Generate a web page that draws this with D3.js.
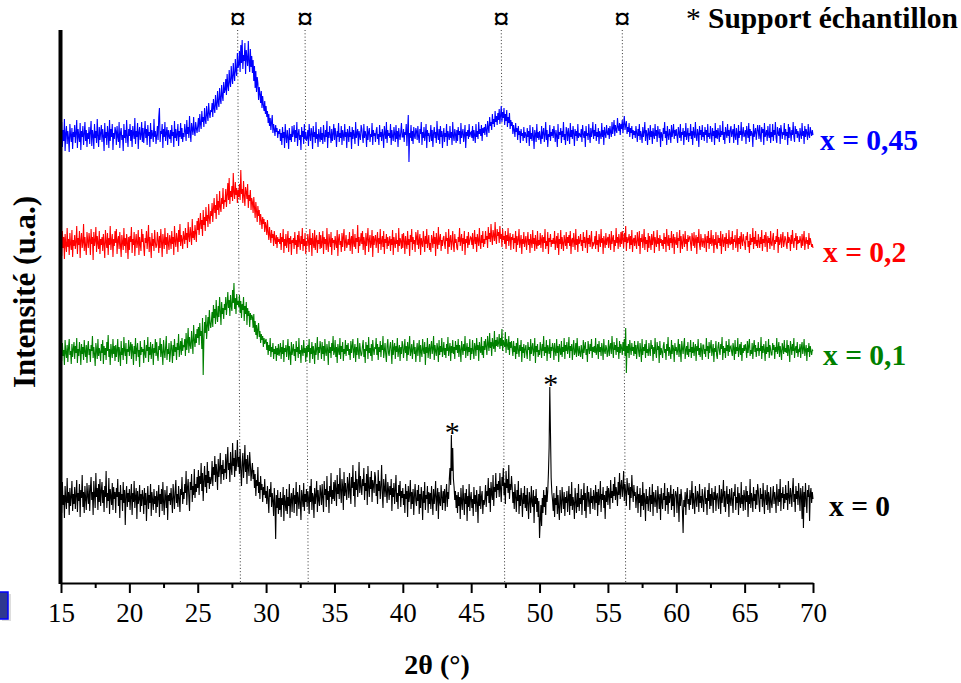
<!DOCTYPE html>
<html>
<head>
<meta charset="utf-8">
<script src="https://cdn.jsdelivr.net/npm/d3@7"></script>
<style>
  body { margin: 0; background: #fff; }
  svg { display: block; }
  text { font-family: "Liberation Serif", "Times New Roman", serif; }
</style>
</head>
<body>
<svg id="chart" width="961" height="683"></svg>
<script>
// ---------- DATA ----------
// Each row = one degree of 2θ (row r starts at 15 + r °), 20 readings per degree (step 0.05 °).
const thetaStart = 15;

const xTicks = [15, 20, 25, 30, 35, 40, 45, 50, 55, 60, 65, 70];
const xMinorTicks = [17.5, 22.5, 27.5, 32.5, 37.5, 42.5, 47.5, 52.5, 57.5, 62.5, 67.5];

const int_x0 = [
[92,70,101,78,88,65,97,83,74,105,80,91,68,95,77,86,102,72,89,79],
[96,74,88,103,71,90,82,99,66,93,85,108,76,91,70,97,84,73,100,87],
[79,98,72,94,106,83,91,68,102,88,75,110,86,95,73,99,81,104,77,92],
[101,80,93,71,97,86,112,75,90,82,105,69,94,87,78,100,73,96,84,91],
[70,95,86,104,77,91,65,98,83,89,72,101,80,93,58,88,97,76,90,81],
[94,73,87,99,68,90,81,102,75,86,95,64,92,79,84,98,71,89,77,93],
[86,69,95,78,90,62,84,97,74,88,80,99,67,91,83,73,94,79,87,70],
[92,76,85,98,66,89,79,94,72,101,81,68,93,86,75,97,63,88,82,90],
[78,95,83,70,99,87,74,92,103,80,89,76,97,85,71,94,88,106,79,91],
[84,99,90,112,78,95,104,86,72,101,93,109,81,97,88,114,85,99,91,106],
[95,113,88,107,99,120,92,110,82,103,117,96,108,90,121,100,112,94,106,99],
[104,122,97,116,108,127,101,119,110,93,124,106,115,130,99,118,109,123,103,114],
[110,129,104,122,136,113,120,101,131,115,108,140,117,125,106,133,112,121,143,116],
[126,109,134,113,97,121,130,105,118,138,111,124,99,128,116,107,131,119,102,112],
[120,104,113,95,109,87,103,97,116,90,101,84,107,93,99,81,96,88,104,85],
[92,79,97,84,70,94,86,101,76,90,82,67,95,80,44,88,75,93,69,85],
[73,91,66,85,78,96,62,88,80,72,94,69,86,77,99,65,83,90,71,87],
[95,70,88,79,101,67,91,84,74,98,80,63,93,86,76,100,72,89,81,94],
[76,92,85,69,97,81,104,73,90,86,65,95,79,88,102,71,93,83,77,98],
[90,78,99,85,71,102,88,94,76,107,83,92,70,97,86,110,79,93,84,101],
[82,103,94,77,108,89,99,84,115,92,80,104,96,73,111,87,100,91,83,106],
[98,85,110,92,79,106,95,118,87,101,76,112,93,104,86,99,121,90,107,96],
[88,104,97,115,83,100,92,109,78,117,96,86,106,94,112,81,103,98,90,111],
[106,87,99,79,113,92,102,84,97,118,89,75,104,95,86,109,91,80,101,94],
[83,97,88,104,72,95,86,100,79,93,108,81,90,74,98,87,102,76,92,85],
[95,78,89,70,99,84,92,66,97,81,88,103,74,91,79,94,68,87,99,82],
[77,93,82,98,69,89,75,96,86,63,92,80,101,73,88,84,97,70,91,79],
[90,74,97,83,68,94,79,88,102,72,85,95,64,91,81,77,98,86,73,92],
[80,94,72,88,99,76,91,84,104,115,98,148,112,135,104,96,83,92,75,88],
[70,91,77,86,64,95,81,73,98,84,68,90,79,94,62,87,76,99,72,85],
[91,75,84,67,96,79,88,71,93,82,60,89,77,97,74,86,92,69,83,78],
[84,98,76,92,87,105,80,95,71,101,89,83,108,77,96,91,110,85,99,93],
[102,86,110,94,81,106,97,115,88,100,79,112,95,104,90,118,84,99,93,107],
[96,80,91,74,99,86,71,93,82,102,69,88,77,95,84,66,90,79,97,75],
[88,72,95,79,64,91,84,70,97,81,76,93,60,87,79,94,71,85,66,82],
[45,62,78,57,85,70,93,76,88,68,96,81,92,110,135,196,150,105,90,83],
[72,90,66,85,78,97,69,88,75,63,93,81,70,96,84,74,91,67,86,80],
[92,71,84,97,68,89,77,101,73,86,80,64,95,82,70,90,76,99,72,85],
[79,94,68,88,83,100,72,90,65,86,97,76,91,82,69,95,80,87,74,93],
[86,73,98,80,91,67,94,78,85,102,71,89,83,96,75,88,64,92,81,97],
[78,95,88,74,103,85,92,80,99,87,106,83,96,90,77,101,88,110,84,97],
[103,86,95,112,82,99,91,77,105,94,88,100,73,96,85,108,92,81,98,87],
[91,75,86,97,70,89,80,95,66,88,77,101,73,90,84,62,94,79,87,72],
[85,96,71,88,79,99,67,91,84,76,93,81,70,97,86,74,89,63,95,82],
[74,90,83,100,72,87,78,95,69,91,80,86,98,73,89,77,94,66,85,92],
[88,70,96,81,61,89,77,94,85,72,50,83,76,91,68,87,95,79,84,73],
[93,78,86,102,74,90,81,69,97,84,76,92,88,71,99,80,87,75,94,83],
[71,88,96,79,85,68,93,82,100,74,89,77,95,86,70,91,83,97,72,87],
[90,81,74,98,86,69,94,80,88,103,76,92,71,85,97,79,89,66,94,82],
[77,95,84,70,91,87,99,73,86,80,96,68,90,83,75,101,79,88,72,93],
[86,73,97,81,92,66,88,79,104,75,90,84,71,96,82,89,74,93,78,99],
[92,80,71,95,84,89,76,100,82,69,93,87,78,98,73,91,85,70,96,81],
[75,88,97,79,91,84,70,99,86,77,94,81,104,72,90,85,96,74,89,80],
[98,83,90,73,102,86,79,95,88,76,93,105,81,89,71,97,84,92,78,100],
[86,72,95,88,64,97,55,91,76,100,84,70,93,86,98,62,89,95,80,91],
[84]
];

const int_x01 = [
[88,74,92,79,85,70,95,82,77,90,73,87,96,80,84,71,91,78,86,93],
[76,89,82,97,72,86,79,93,84,70,91,81,88,75,95,83,78,90,72,87],
[94,80,86,73,90,84,99,77,88,81,69,92,85,76,96,79,87,83,74,91],
[82,95,71,89,80,87,75,93,84,100,78,86,70,91,83,77,96,81,89,74],
[90,78,85,96,73,88,82,69,94,80,87,75,98,84,79,92,71,86,83,95],
[79,87,93,76,91,84,70,89,81,97,74,86,92,78,85,68,94,80,88,83],
[86,72,95,81,77,90,84,98,73,88,80,93,76,85,91,70,87,82,96,79],
[93,80,74,89,85,97,78,91,82,70,95,84,77,88,99,75,86,81,92,73],
[81,94,86,72,90,79,96,83,88,75,92,85,101,78,87,94,80,97,84,90],
[88,96,79,102,85,93,107,82,98,90,86,104,93,81,110,95,88,101,92,106],
[97,108,90,112,99,104,86,117,60,95,113,102,120,96,109,118,104,125,112,107],
[114,123,108,130,117,126,111,135,120,113,129,118,138,124,110,133,121,127,116,131],
[125,138,120,131,143,127,135,119,140,129,124,145,132,152,126,137,121,141,130,134],
[128,140,122,134,117,131,125,138,114,129,121,133,110,127,119,124,108,122,115,120],
[118,107,121,103,114,100,110,96,106,112,98,104,92,101,95,99,88,97,91,94],
[96,85,93,80,90,84,97,78,88,83,92,76,86,81,89,74,87,80,91,79],
[84,92,76,88,81,95,73,87,83,90,78,86,96,75,89,82,70,93,80,85],
[91,79,86,74,94,83,88,77,97,81,85,72,90,84,79,95,82,87,73,89],
[78,90,83,96,72,87,81,93,76,89,84,71,92,80,86,98,75,88,82,94],
[87,76,93,81,89,74,96,83,79,91,85,70,94,82,88,77,92,84,99,80],
[83,95,78,88,72,91,85,80,97,76,89,83,93,74,86,81,95,79,90,84],
[92,80,86,75,94,82,89,96,77,85,91,73,88,80,97,83,76,92,85,79],
[81,89,95,78,86,72,93,84,90,76,98,82,87,79,91,74,95,86,80,88],
[86,97,80,91,75,88,83,94,78,90,85,99,77,84,92,81,73,89,96,82],
[79,88,93,84,71,95,80,87,92,76,89,83,97,78,85,90,74,88,81,94],
[90,77,85,96,82,89,74,93,80,87,99,79,84,91,76,86,95,81,88,73],
[84,92,79,87,95,73,90,83,78,96,85,81,93,70,88,82,97,77,86,91],
[76,88,94,81,86,99,75,90,84,79,92,87,73,95,80,89,83,97,78,85],
[93,80,87,77,91,84,98,79,86,92,74,89,82,95,81,88,76,94,85,90],
[82,96,78,90,85,73,94,87,80,91,84,99,77,86,92,79,88,83,96,75],
[87,81,95,84,76,92,88,79,97,85,90,74,93,86,82,98,80,89,77,94],
[85,96,88,80,99,91,84,102,87,93,79,97,90,86,104,83,95,89,98,88],
[92,101,86,97,89,106,84,95,91,88,103,82,96,90,85,99,80,93,87,94],
[86,79,94,83,89,76,92,81,97,85,78,90,84,95,73,88,82,91,77,86],
[90,82,76,93,85,88,74,96,81,87,92,79,84,97,72,89,83,91,78,85],
[80,93,86,77,91,84,99,79,88,82,95,74,90,86,81,96,77,88,84,92],
[87,75,92,84,79,96,82,89,73,91,85,80,94,78,88,83,97,76,90,84],
[93,81,86,98,77,89,84,91,75,87,95,80,83,92,78,97,85,79,89,82],
[78,90,84,76,95,82,88,93,80,86,73,94,87,81,91,84,96,77,88,83],
[89,82,97,80,85,91,76,94,83,88,79,92,86,75,96,84,81,90,87,78],
[84,95,79,88,92,81,99,86,77,93,85,90,80,97,83,88,76,94,82,91],
[87,80,93,84,96,79,107,62,89,82,91,77,95,86,80,92,84,88,79,94],
[81,90,76,87,94,83,78,92,85,73,96,80,88,84,91,77,95,82,86,79],
[92,84,79,95,86,90,74,88,81,97,83,77,93,85,89,72,94,80,87,83],
[77,89,93,82,86,75,91,84,98,79,88,83,76,95,81,90,86,73,92,84],
[88,80,85,96,78,91,84,73,94,87,81,90,97,76,85,89,80,93,78,86],
[83,95,77,88,82,93,79,86,91,74,89,84,96,80,87,78,92,85,75,90],
[90,81,86,78,97,84,89,76,93,82,88,95,79,85,91,73,87,83,94,80],
[76,88,93,84,80,91,86,98,75,89,82,87,77,94,84,90,79,96,83,88],
[89,83,79,92,87,75,95,81,88,84,97,78,86,91,80,93,74,87,82,90],
[84,91,86,77,94,82,89,96,79,85,81,92,76,88,95,83,90,78,87,84],
[93,79,87,84,98,76,89,82,91,85,74,94,81,88,83,96,77,90,86,80],
[80,92,85,90,76,88,83,97,81,86,93,78,89,84,75,92,87,81,95,83],
[87,82,95,79,90,85,73,94,88,80,91,84,97,77,86,89,82,93,78,85],
[84,91,77,88,93,81,86,96,79,85,90,74,87,83,92,78,89,84,80,85],
[84]
];

const int_x02 = [
[86,72,97,80,91,69,94,83,76,100,81,89,73,95,84,78,98,71,88,82],
[93,79,86,102,74,90,83,97,70,88,95,80,85,104,77,91,82,73,96,87],
[80,95,88,73,99,84,91,68,96,82,87,101,76,92,85,79,97,74,89,83],
[91,77,94,84,70,98,86,80,95,73,90,83,102,78,87,94,71,89,82,97],
[85,99,74,88,92,79,96,83,71,93,86,78,100,82,90,75,94,87,69,91],
[78,92,86,101,75,89,83,96,72,87,94,80,85,98,73,91,84,77,99,86],
[94,81,72,90,85,97,79,88,103,76,91,84,70,95,82,89,77,98,86,80],
[83,96,88,75,92,80,99,86,71,94,87,79,100,83,91,74,95,85,78,93],
[88,79,97,84,91,73,102,87,81,95,89,76,98,86,104,82,93,88,79,97],
[91,84,100,88,95,80,106,92,86,101,94,83,109,90,97,88,103,95,86,107],
[98,110,93,104,115,99,108,92,118,103,111,97,121,107,113,101,124,110,104,117],
[112,125,106,119,130,115,123,109,134,118,127,113,137,121,116,130,124,140,119,128],
[126,139,121,133,145,128,150,124,137,131,142,127,155,135,129,146,133,140,125,138],
[131,144,128,158,134,139,125,147,132,122,141,136,129,144,120,133,127,138,118,130],
[126,115,131,121,110,126,117,106,122,112,118,103,114,108,99,111,104,109,96,106],
[102,93,108,96,88,101,93,85,98,90,94,82,97,89,84,93,80,91,86,89],
[84,95,78,91,86,99,75,89,82,94,80,87,97,76,90,84,92,73,88,85],
[90,79,96,83,88,74,93,81,97,86,78,92,84,100,77,89,82,95,74,87],
[82,94,87,76,99,83,90,72,95,85,80,98,78,89,93,75,88,84,96,79],
[93,80,86,97,74,91,84,89,78,100,83,76,94,87,81,96,73,90,85,88],
[78,92,85,80,98,72,89,94,83,87,76,95,81,91,99,77,86,93,80,84],
[89,83,96,77,88,92,74,99,85,81,94,79,90,86,103,75,91,82,87,95],
[84,97,78,91,86,73,95,82,89,100,76,88,93,80,85,98,71,92,83,89],
[93,80,88,96,75,90,84,99,78,87,92,81,97,74,89,85,94,79,91,82],
[86,92,77,89,83,98,73,91,86,80,95,84,88,76,100,82,90,87,79,94],
[80,95,88,74,92,85,79,97,83,89,72,93,86,99,78,91,84,88,76,96],
[91,83,98,79,87,94,73,90,85,81,97,88,76,92,84,99,80,86,93,78],
[85,76,93,88,80,97,84,91,72,95,86,79,101,83,89,94,77,88,82,90],
[92,84,79,96,87,90,74,99,81,88,93,78,86,97,83,76,94,85,89,80],
[78,91,86,100,82,88,94,77,90,84,97,73,89,85,92,80,96,83,87,91],
[90,83,95,79,87,98,84,91,76,94,88,82,100,86,79,93,85,97,81,89],
[84,97,88,92,80,101,89,95,86,104,91,83,98,93,87,106,90,84,99,92],
[96,85,102,89,94,81,99,88,92,84,97,79,93,87,100,82,90,95,78,91],
[88,94,79,90,85,97,76,92,83,88,99,80,86,93,74,89,84,96,81,87],
[92,78,87,96,83,89,75,94,86,80,98,84,90,77,93,85,79,97,82,88],
[83,95,80,89,93,76,91,85,99,79,87,82,96,74,90,86,94,81,88,84],
[90,84,97,78,86,92,80,95,73,89,84,98,79,91,85,77,93,87,82,96],
[79,91,85,93,82,97,74,88,90,81,95,86,78,99,83,89,76,92,84,87],
[94,82,88,77,96,85,91,80,87,98,75,90,84,93,81,88,97,79,86,83],
[85,92,79,97,83,88,76,94,87,81,99,85,90,74,92,86,80,95,83,89],
[91,80,94,86,78,97,84,89,93,76,88,82,100,85,91,79,94,87,81,96],
[84,97,88,80,95,86,102,77,91,85,89,94,79,92,83,98,76,88,90,82],
[93,85,79,96,88,82,97,74,90,86,94,80,87,99,78,91,84,88,76,95],
[80,92,87,78,94,83,89,97,75,91,86,81,98,84,90,77,93,85,89,82],
[88,79,95,84,91,76,99,86,82,93,78,90,85,97,80,88,94,74,91,86],
[83,96,80,90,87,98,75,92,85,79,94,88,81,97,84,89,77,93,86,90],
[92,84,77,95,89,82,96,80,88,93,74,91,85,99,83,78,94,87,81,90],
[86,80,94,88,76,92,85,97,79,90,84,98,82,87,93,75,89,83,96,81],
[79,93,85,90,82,97,74,88,94,81,87,91,77,95,84,89,80,98,85,83],
[91,84,97,78,89,86,93,80,85,99,76,90,84,92,79,96,87,82,94,88],
[85,78,92,88,96,81,87,75,94,83,90,86,100,79,91,84,97,82,88,80],
[94,87,80,91,84,98,77,89,85,93,81,96,88,76,92,85,90,79,97,84],
[82,90,95,78,88,84,92,86,99,75,91,83,87,94,80,89,96,81,85,92],
[89,83,79,96,85,91,88,77,93,84,98,86,80,90,87,95,78,92,84,88],
[85,92,87,80,94,82,89,97,78,86,91,84,88,79,95,83,90,86,81,84],
[80]
];

const int_x045 = [
[84,99,74,91,80,102,70,88,95,77,90,83,69,97,86,79,93,72,89,84],
[96,78,88,101,73,92,85,79,98,71,90,84,95,76,87,99,80,91,74,88],
[82,94,77,89,100,75,91,86,72,97,83,90,78,102,85,74,94,81,88,96],
[79,92,85,70,98,83,89,76,95,87,73,101,80,92,84,97,71,88,82,94],
[90,76,95,84,79,99,73,88,93,81,86,70,97,83,91,78,101,85,74,92],
[85,97,80,91,74,95,87,82,103,77,90,84,98,72,89,94,81,86,99,79],
[93,78,88,100,83,92,76,96,85,89,74,98,82,91,86,79,102,84,90,77],
[86,95,81,104,113,79,90,87,97,73,92,84,99,80,88,94,76,91,85,82],
[91,78,96,85,89,74,100,83,92,80,87,97,75,90,84,98,82,93,79,88],
[84,97,90,80,101,87,94,83,105,89,79,98,92,86,104,90,85,99,93,88],
[95,103,89,107,97,92,110,99,104,94,113,101,97,115,106,100,118,108,103,111],
[109,118,104,122,113,108,126,116,111,130,119,114,133,122,117,136,125,120,139,128],
[131,142,126,147,135,130,151,139,134,155,143,137,158,146,140,162,150,145,168,153],
[156,170,149,176,158,181,152,166,160,178,147,171,163,155,180,159,149,172,154,165],
[148,161,140,155,133,150,129,144,138,121,134,127,118,130,113,125,116,110,120,107],
[115,104,110,98,107,95,103,91,99,106,88,97,92,85,96,89,93,83,90,87],
[92,80,88,76,94,83,89,73,97,85,78,91,84,72,93,81,87,79,95,84],
[88,96,79,91,83,99,75,87,92,81,86,71,94,84,90,77,97,82,89,80],
[83,91,75,97,86,80,93,88,72,95,84,89,78,99,82,87,74,92,85,79],
[94,81,88,77,96,85,79,91,84,100,73,89,83,95,86,78,92,80,87,97],
[81,93,86,74,90,84,98,79,88,83,95,76,91,86,80,97,84,89,73,92],
[87,79,95,84,89,72,94,82,91,86,77,99,83,88,92,75,90,85,81,96],
[92,84,78,97,83,90,86,74,95,81,89,93,79,87,84,98,76,91,85,88],
[79,90,94,82,87,76,96,84,89,80,92,86,73,95,88,82,99,78,91,85],
[88,83,97,76,91,85,80,94,87,79,96,82,90,74,93,86,81,89,98,84],
[84,92,79,89,86,97,75,91,106,59,88,83,96,80,90,77,94,85,82,93],
[90,81,95,84,78,92,87,99,76,89,83,94,80,86,97,73,91,85,88,79],
[85,96,80,91,74,88,94,83,89,78,100,86,81,92,77,95,84,90,73,87],
[93,79,88,84,97,75,90,86,81,95,83,89,76,99,85,80,92,87,78,91],
[80,94,86,90,77,98,83,88,92,79,86,96,73,89,85,91,82,97,84,88],
[89,83,95,80,91,86,78,97,84,90,82,99,87,92,85,96,80,93,88,94],
[86,97,91,84,100,93,88,104,95,99,91,107,97,102,94,110,99,105,96,108],
[101,112,97,106,115,99,109,103,113,96,107,100,111,94,104,98,108,92,101,95],
[99,87,96,91,84,98,89,93,81,95,86,90,78,92,85,88,80,94,83,89],
[86,78,93,84,90,75,96,82,88,80,94,85,72,91,87,79,97,83,89,81],
[90,84,77,95,82,88,93,79,86,99,81,91,74,87,84,96,80,89,85,92],
[83,95,88,79,91,85,74,97,82,89,86,93,78,90,84,99,81,87,76,94],
[89,80,93,86,77,98,84,91,82,95,88,75,92,85,90,80,97,83,88,86],
[84,92,79,96,87,83,90,74,95,85,88,81,97,86,78,93,84,89,99,82],
[91,85,97,80,89,84,93,77,90,86,82,98,84,91,76,94,87,83,96,88],
[86,93,82,95,89,84,99,87,93,101,85,96,91,88,103,94,90,98,86,97],
[92,101,88,97,105,91,96,100,87,94,89,98,84,93,88,95,82,91,86,90],
[83,95,88,79,92,85,97,81,90,86,78,94,84,89,99,80,91,87,76,93],
[88,81,96,84,90,77,93,86,82,97,85,91,79,95,88,83,92,74,89,86],
[80,93,87,99,83,90,76,95,86,81,92,88,78,96,84,89,97,82,91,85],
[92,85,78,94,88,83,97,80,89,86,93,76,90,84,98,81,87,93,79,88],
[85,97,82,90,76,94,87,83,99,85,80,92,88,74,95,86,91,81,96,84],
[89,80,94,86,91,78,97,84,88,82,95,87,79,93,85,90,76,98,83,91],
[82,93,87,79,96,84,90,86,100,81,89,77,94,88,83,97,85,91,78,92],
[95,84,89,92,78,97,85,81,93,87,76,96,83,90,86,99,80,88,94,84],
[86,91,77,95,88,83,98,79,92,85,90,87,74,97,84,89,93,81,88,96],
[90,82,96,85,79,94,88,92,76,98,84,87,91,80,95,86,83,97,78,89],
[84,97,80,91,86,99,83,78,94,88,85,93,77,96,90,82,89,86,98,81],
[92,85,89,76,97,83,94,88,80,91,86,99,84,79,95,87,92,83,90,86],
[79,93,87,82,98,85,90,77,95,84,92,88,81,97,86,83,94,89,85,91],
[86]
];

const seriesNames   = ["x = 0", "x = 0,1", "x = 0,2", "x = 0,45"];
const seriesValues  = [int_x0, int_x01, int_x02, int_x045];
const seriesOffsets = [0, 148, 255, 362];          // vertical stacking offsets (u.a.)
const seriesColors  = ["#000000", "#008000", "#ff0000", "#0000ff"];

// Reference phase lines (¤): 2θ at top and at bottom of each dotted line
const refLinesTop    = [27.92, 32.85, 47.2, 56.05];
const refLinesBottom = [28.12, 33.08, 47.45, 56.3];

// Sample-holder peaks (*) on x = 0
const holderPeaks = [43.55, 50.75];

// ---------- CHART ----------
const toPoints = rows => rows.flatMap((row, r) =>
  row.map((v, j) => ({ t: thetaStart + r + j / row.length, v })));
const seriesPoints = seriesValues.map(toPoints);

const svg = d3.select("#chart");
const x = d3.scaleLinear().domain([15, 70]).range([61, 813]);
const y = d3.scaleLinear().domain([0, 553]).range([583, 30]);
const font = '"Liberation Serif", "Times New Roman", serif';

// dotted reference lines
svg.append("g").selectAll("line").data(refLinesTop).join("line")
  .attr("x1", d => x(d)).attr("y1", y(553))
  .attr("x2", (d, i) => x(refLinesBottom[i])).attr("y2", y(0))
  .attr("stroke", "#333").attr("stroke-width", 1)
  .attr("stroke-dasharray", "1,2.3");

// ¤ markers
svg.append("g").selectAll("text").data(refLinesTop).join("text")
  .attr("x", d => x(d)).attr("y", 29)
  .attr("text-anchor", "middle")
  .attr("font-size", 32).attr("font-weight", "bold")
  .text("¤");

// series lines
svg.append("g").selectAll("path").data(seriesPoints).join("path")
  .attr("d", (pts, i) => d3.line()
      .x(p => x(p.t))
      .y(p => y(p.v + seriesOffsets[i]))(pts))
  .attr("fill", "none")
  .attr("stroke", (d, i) => seriesColors[i])
  .attr("stroke-width", 1.1)
  .attr("stroke-linejoin", "miter");

// asterisks above sample-holder peaks
svg.append("g").selectAll("text").data(holderPeaks).join("text")
  .attr("x", d => x(d) + 1)
  .attr("y", d => {
    const top = d3.max(seriesPoints[0].filter(p => Math.abs(p.t - d) < 0.12), p => p.v);
    return y(top) + 7;
  })
  .attr("text-anchor", "middle")
  .attr("font-size", 30)
  .text("*");

// series labels
const labelPos = [[829, 516], [823, 365], [823, 262], [820, 150]];
svg.append("g").selectAll("text").data(seriesNames).join("text")
  .attr("x", (d, i) => labelPos[i][0]).attr("y", (d, i) => labelPos[i][1])
  .attr("font-size", 29.5).attr("font-weight", "bold")
  .attr("fill", (d, i) => seriesColors[i])
  .text(d => d);

// x axis with major and minor ticks
const xAxis = d3.axisBottom(x).tickValues(xTicks).tickSize(10).tickSizeOuter(0).tickPadding(10);
const gx = svg.append("g").attr("transform", `translate(0,${y(0)})`).call(xAxis);
gx.select(".domain").attr("stroke", "#000").attr("stroke-width", 2.2);
gx.selectAll(".tick line").attr("stroke-width", 2);
gx.selectAll(".tick text").attr("font-family", font).attr("font-size", 27).attr("fill", "#000");
svg.append("g").attr("transform", `translate(0,${y(0)})`)
  .call(d3.axisBottom(x).tickValues(xMinorTicks).tickSize(5).tickFormat(""))
  .call(g => g.select(".domain").remove())
  .selectAll(".tick line").attr("stroke-width", 2);

// left axis (thick line)
svg.append("line")
  .attr("x1", x(15) - 0.5).attr("x2", x(15) - 0.5)
  .attr("y1", y(553)).attr("y2", y(0) + 1)
  .attr("stroke", "#000").attr("stroke-width", 4);

// axis titles
svg.append("text")
  .attr("x", 437).attr("y", 674)
  .attr("text-anchor", "middle")
  .attr("font-size", 28).attr("font-weight", "bold")
  .text("2θ (°)");

svg.append("text")
  .attr("transform", "translate(35,292) rotate(-90)")
  .attr("text-anchor", "middle")
  .attr("font-size", 31).attr("font-weight", "bold")
  .text("Intensité (u.a.)");

// legend note
svg.append("text")
  .attr("x", 958).attr("y", 28)
  .attr("text-anchor", "end")
  .attr("font-size", 29.5).attr("font-weight", "bold")
  .call(t => {
    t.append("tspan").attr("font-weight", "normal").text("* ");
    t.append("tspan").text("Support échantillon");
  });

// small blue box at lower left
svg.append("rect")
  .attr("x", 2).attr("y", 594).attr("width", 9).attr("height", 27)
  .attr("fill", "#bbb").attr("opacity", 0.5);
svg.append("rect")
  .attr("x", -1).attr("y", 592).attr("width", 9).attr("height", 27)
  .attr("fill", "#2e3890").attr("stroke", "#0000ff").attr("stroke-width", 1.5);
</script>
</body>
</html>
